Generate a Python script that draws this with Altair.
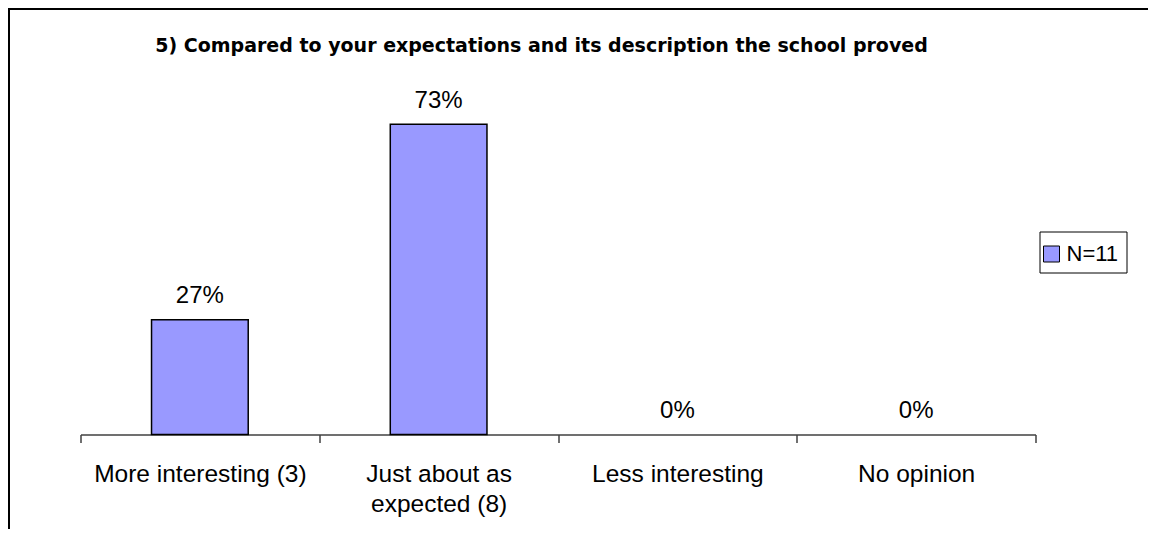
import altair as alt
import pandas as pd

CATEGORIES = ["More interesting (3)", "Just about as\nexpected (8)", "Less interesting", "No opinion"]
PERCENTS = [27, 73, 0, 0]
SERIES = "N=11"
TITLE = "5) Compared to your expectations and its description the school proved"

df = pd.DataFrame({
    "category": CATEGORIES,
    "pct": PERCENTS,
    "series": [SERIES] * len(CATEGORIES),
    "label": [f"{p}%" for p in PERCENTS],
})

x_enc = alt.X(
    "category:N",
    sort=CATEGORIES,
    scale=alt.Scale(paddingInner=0, paddingOuter=0),
    axis=alt.Axis(
        title=None,
        labelAngle=0,
        labelExpr="split(datum.label, '\\n')",
        labelFont="Liberation Sans",
        labelFontSize=24.5,
        labelColor="black",
        labelLineHeight=30,
        labelPadding=20,
        labelLimit=0,
        labelOverlap=False,
        labelBaseline="top",
        tickSize=8,
        tickBand="extent",
        domainColor="#404040",
        tickColor="#404040",
        domainWidth=1.5,
        tickWidth=1.5,
        grid=False,
    ),
)
y_enc = alt.Y("pct:Q", scale=alt.Scale(domain=[0, 80]), axis=None)

frame_data = alt.Data(values=[{"k": 1}])

legend_box = alt.Chart(frame_data).mark_rect(
    fill="white", stroke="black", strokeWidth=1
).encode(
    x=alt.value(959.5), x2=alt.value(1046.5), y=alt.value(137.5), y2=alt.value(178.5)
)

bars = alt.Chart(df).mark_bar(
    width=alt.RelativeBandSize(0.405), stroke="black"
).encode(
    x=x_enc,
    y=y_enc,
    strokeWidth=alt.condition(alt.datum.pct > 0, alt.value(1.5), alt.value(0)),
    color=alt.Color(
        "series:N",
        scale=alt.Scale(range=["#9999FF"]),
        legend=alt.Legend(
            title=None,
            orient="none",
            legendX=960,
            legendY=148.5,
            direction="vertical",
            symbolType="square",
            symbolSize=256,
            symbolStrokeColor="black",
            symbolStrokeWidth=1,
            symbolOpacity=1,
            labelFont="Liberation Sans",
            labelFontSize=22,
            labelColor="black",
            labelOffset=4,
            padding=0,
        ),
    ),
)

labels = alt.Chart(df).mark_text(
    font="Liberation Sans", fontSize=24, baseline="alphabetic", dy=-16.5, color="black"
).encode(x=x_enc, y=y_enc, text="label:N")

title = alt.Chart(alt.Data(values=[{"t": TITLE}])).mark_text(
    font="DejaVu Sans", fontWeight="bold", fontSize=19, align="center",
    baseline="alphabetic", color="black"
).encode(x=alt.value(461), y=alt.value(-42.5), text="t:N")

frame_top = alt.Chart(frame_data).mark_rule(color="black", strokeWidth=2).encode(
    x=alt.value(-72.5), x2=alt.value(1070), y=alt.value(-85.5)
)
frame_left = alt.Chart(frame_data).mark_rule(color="black", strokeWidth=2).encode(
    x=alt.value(-71.5), y=alt.value(-86.5), y2=alt.value(440)
)

chart = alt.layer(legend_box, bars, labels, title, frame_top, frame_left).properties(
    width=955,
    height=340,
    padding={"left": 72.5, "top": 86.5, "right": 112.5, "bottom": 94.5},
    autosize=alt.AutoSizeParams(type="none"),
    background="white",
).configure_view(strokeWidth=0)

chart.save("out.html", embed_options={"renderer": "svg", "actions": False})
